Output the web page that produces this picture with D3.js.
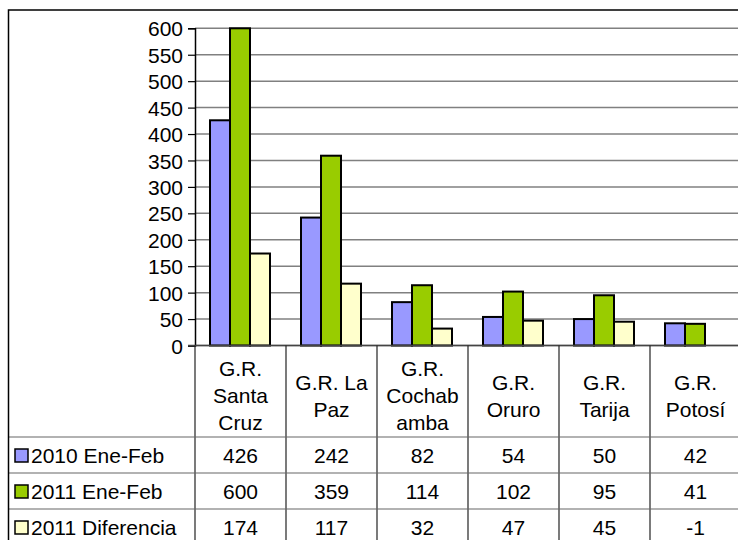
<!DOCTYPE html>
<html>
	<head>
		<meta charset="UTF-8" />
		<title>document</title>
		<script src="https://d3js.org/d3.v7.min.js"></script>
		<style>
			body{ margin: 0; background: #fff; }
			text{ font-family: "Liberation Sans", Arial, sans-serif; font-size: 21px; fill: #000; }
			.grid{ stroke: #808080; stroke-width: 1.5; }
			.bar{ stroke: #000; stroke-width: 2; }
			.tbl{ stroke: #666; stroke-width: 1.2; }
		</style>
	</head>
	<body>

	<script type="text/javascript">
		var categories = ["G.R. Santa Cruz", "G.R. La Paz", "G.R. Cochabamba", "G.R. Oruro", "G.R. Tarija", "G.R. Potosí"];
		var categoryLines = [["G.R.", "Santa", "Cruz"], ["G.R. La", "Paz"], ["G.R.", "Cochab", "amba"], ["G.R.", "Oruro"], ["G.R.", "Tarija"], ["G.R.", "Potosí"]];
		var seriesNames = ["2010 Ene-Feb", "2011 Ene-Feb", "2011 Diferencia"];
		var seriesColors = ["#9999ff", "#99cc00", "#ffffcc"];
		var ene2010 = [426, 242, 82, 54, 50, 42];
		var ene2011 = [600, 359, 114, 102, 95, 41];
		var diferencia = [174, 117, 32, 47, 45, -1];
		var yTicks = [0, 50, 100, 150, 200, 250, 300, 350, 400, 450, 500, 550, 600];

		var width = 738;
		var height = 540;
		var series = [ene2010, ene2011, diferencia];

		var svg = d3.select("body").append("svg").attr("width", width).attr("height", height);

		var x = d3.scaleBand().domain(categories).range([195, 741]);
		var xs = d3.scaleBand().domain(seriesNames).range([15, 75]);
		var y = d3.scaleLinear().domain([0, 600]).range([345.5, 28.3]);

		// gridlines
		svg.append("g").selectAll("line").data(yTicks).enter().append("line")
			.attr("class", "grid")
			.attr("x1", 195).attr("x2", 741)
			.attr("y1", function(d){ return y(d); }).attr("y2", function(d){ return y(d); });

		// bars
		var groups = svg.append("g").selectAll("g").data(series).enter().append("g");
		groups.selectAll("rect")
			.data(function(s, i){ return s.map(function(v, j){ return {v: v, c: categories[j], s: i}; }).filter(function(d){ return d.v > 0; }); })
			.enter().append("rect")
			.attr("class", "bar")
			.attr("x", function(d){ return x(d.c) + xs(seriesNames[d.s]); })
			.attr("width", xs.bandwidth())
			.attr("y", function(d){ return y(d.v); })
			.attr("height", function(d){ return y(0) - y(d.v); })
			.attr("fill", function(d){ return seriesColors[d.s]; });

		// y axis
		var yAxis = d3.axisLeft(y).tickValues(yTicks).tickSize(7).tickPadding(5);
		var ya = svg.append("g").attr("transform", "translate(195,0)").call(yAxis);
		ya.select(".domain").attr("stroke", "#000").attr("stroke-width", 1.5);
		ya.selectAll(".tick line").attr("stroke", "#000").attr("stroke-width", 1.2);
		ya.selectAll("text").style("font-size", "21px").attr("dy", "0.36em");

		// zero line
		svg.append("line").attr("x1", 188).attr("x2", 741).attr("y1", y(0)).attr("y2", y(0))
			.attr("stroke", "#444").attr("stroke-width", 1.5);

		// data table
		var rowTop = [437, 473, 509];
		var bounds = categories.map(function(c){ return x(c); });
		svg.append("g").selectAll("line").data(bounds).enter().append("line")
			.attr("stroke", "#222").attr("stroke-width", 1.2)
			.attr("x1", function(d){ return d; }).attr("x2", function(d){ return d; })
			.attr("y1", y(0)).attr("y2", height);
		svg.append("g").selectAll("line").data(rowTop).enter().append("line")
			.attr("class", "tbl")
			.attr("x1", 8).attr("x2", 741)
			.attr("y1", function(d){ return d; }).attr("y2", function(d){ return d; });

		// category labels
		var lab = svg.append("g").selectAll("text").data(categoryLines).enter().append("text")
			.attr("text-anchor", "middle")
			.attr("x", function(d, i){ return x(categories[i]) + x.bandwidth() / 2; })
			.attr("y", function(d){ return 396 - (d.length - 1) * 13.5 + 7; });
		lab.selectAll("tspan").data(function(d){ return d; }).enter().append("tspan")
			.attr("x", function(){ return this.parentNode.getAttribute("x"); })
			.attr("dy", function(d, i){ return i == 0 ? 0 : 27; })
			.text(function(d){ return d; });

		// legend column + values
		seriesNames.forEach(function(name, i){
			var top = rowTop[i];
			svg.append("rect").attr("x", 15).attr("y", top + 12).attr("width", 13).attr("height", 13)
				.attr("fill", seriesColors[i]).attr("stroke", "#000").attr("stroke-width", 1.5);
			svg.append("text").attr("x", 31).attr("y", top + 26).text(name);
			svg.append("g").selectAll("text").data(series[i]).enter().append("text")
				.attr("text-anchor", "middle")
				.attr("x", function(d, j){ return x(categories[j]) + x.bandwidth() / 2; })
				.attr("y", top + 26)
				.text(function(d){ return d; });
		});

		// outer frame
		svg.append("rect").attr("x", 8.5).attr("y", 10).attr("width", 760).attr("height", 560)
			.attr("fill", "none").attr("stroke", "#000").attr("stroke-width", 1.5);
	</script>

	</body>
</html>
